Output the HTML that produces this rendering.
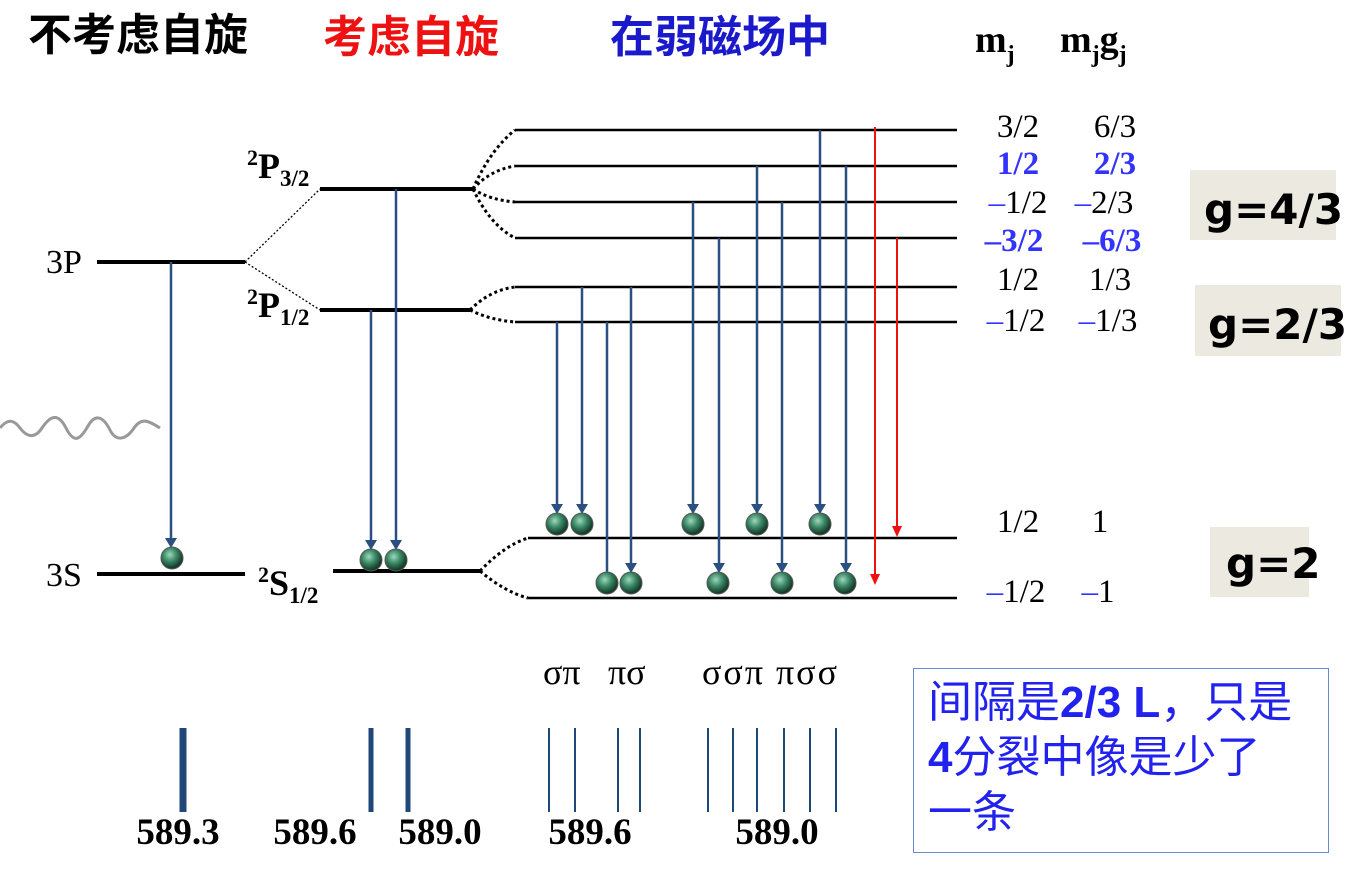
<!DOCTYPE html>
<html><head><meta charset="utf-8"><style>
body{margin:0;background:#fff;width:1361px;height:874px;overflow:hidden;position:relative}
svg{position:absolute;left:0;top:0}
.cn{font-family:"Liberation Sans","Noto Sans CJK SC",sans-serif;font-weight:bold}
.box{position:absolute;left:913px;top:668px;width:416px;height:185px;border:1.5px solid #6a8ad0;box-sizing:border-box;color:#2222ee;font-family:"Liberation Sans","Noto Sans CJK SC",sans-serif;font-size:44px;line-height:55px;padding:6px 0 0 14px;white-space:nowrap}
</style></head><body>
<svg width="1361" height="874" viewBox="0 0 1361 874">
<defs>
<radialGradient id="ball" cx="40%" cy="35%" r="60%"><stop offset="0" stop-color="#9fd8bd"/><stop offset="0.5" stop-color="#3c8a68"/><stop offset="1" stop-color="#153c2a"/></radialGradient>
</defs>
<g class="cn" font-size="44">
<text x="28" y="50" fill="#000">不考虑自旋</text>
<text x="323" y="52" fill="#ee1111">考虑自旋</text>
<text x="610" y="52" fill="#1a1acc">在弱磁场中</text>
</g>
<g font-family="Liberation Serif,serif" font-weight="bold" font-size="38" fill="#000">
<text x="975" y="52">m<tspan font-size="24" dy="10">j</tspan></text>
<text x="1060" y="52">m<tspan font-size="24" dy="10">j</tspan><tspan dy="-10">g</tspan><tspan font-size="24" dy="10">j</tspan></text>
</g>
<g stroke="#000" stroke-width="4">
<line x1="97" y1="262" x2="245" y2="262"/><line x1="97" y1="574" x2="245" y2="574"/>
<line x1="320" y1="189" x2="475" y2="189"/><line x1="320" y1="310" x2="470" y2="310"/>
<line x1="333" y1="571" x2="480" y2="571"/>
</g>
<g stroke="#000" stroke-width="1.3" stroke-dasharray="2,2">
<line x1="245" y1="262" x2="320" y2="189"/><line x1="245" y1="262" x2="320" y2="310"/>
</g>
<g stroke="#000" stroke-width="3" stroke-dasharray="3,3" fill="none">
<path d="M473,189 Q490,150 515,130"/><path d="M473,189 Q490,170 515,166"/><path d="M473,189 Q490,200 515,202"/><path d="M473,189 Q490,225 515,238"/>
<path d="M470,310 Q490,290 515,287"/><path d="M470,310 Q490,320 515,322"/>
<path d="M480,571 Q505,545 528,538"/><path d="M480,571 Q505,592 528,598"/>
</g>
<g stroke="#000" stroke-width="2.5">
<line x1="515" y1="130" x2="957" y2="130"/><line x1="515" y1="166" x2="957" y2="166"/><line x1="515" y1="202" x2="957" y2="202"/><line x1="515" y1="238" x2="957" y2="238"/><line x1="515" y1="287" x2="957" y2="287"/><line x1="515" y1="322" x2="957" y2="322"/>
<line x1="528" y1="538" x2="957" y2="538"/><line x1="528" y1="598" x2="957" y2="598"/>
</g>
<path d="M0,428 C8,418 14,420 20,428 S34,440 42,428 S58,412 66,428 S80,440 88,426 S104,418 110,430 S126,440 134,428 S150,422 160,428" stroke="#999" stroke-width="3" fill="none"/>
<g stroke="#2a4f80" stroke-width="2.5">
<line x1="171" y1="262" x2="171" y2="540"/>
<line x1="371" y1="310" x2="371" y2="542"/><line x1="396" y1="189" x2="396" y2="542"/>
<line x1="557" y1="322" x2="557" y2="506"/><line x1="582" y1="287" x2="582" y2="506"/>
<line x1="607" y1="322" x2="607" y2="580"/>
<line x1="631" y1="287" x2="631" y2="565"/>
<line x1="693" y1="202" x2="693" y2="506"/><line x1="719" y1="238" x2="719" y2="565"/>
<line x1="757" y1="166" x2="757" y2="506"/><line x1="782" y1="202" x2="782" y2="565"/>
<line x1="820" y1="130" x2="820" y2="506"/><line x1="846" y1="166" x2="846" y2="565"/>
</g>
<g fill="#2a4f80">
<path d="M165,538 h12 l-6,10z"/>
<path d="M365,540 h12 l-6,10z"/><path d="M390,540 h12 l-6,10z"/>
<path d="M551,504 h12 l-6,10z"/><path d="M576,504 h12 l-6,10z"/><path d="M687,504 h12 l-6,10z"/><path d="M751,504 h12 l-6,10z"/><path d="M814,504 h12 l-6,10z"/>
<path d="M625,563 h12 l-6,10z"/><path d="M713,563 h12 l-6,10z"/><path d="M776,563 h12 l-6,10z"/><path d="M840,563 h12 l-6,10z"/>
</g>
<g stroke="#ee1111" stroke-width="2">
<line x1="875" y1="127" x2="875" y2="576"/><line x1="897" y1="238" x2="897" y2="528"/>
</g>
<g fill="#ee1111"><path d="M870,574 h10 l-5,11z"/><path d="M892,526 h10 l-5,11z"/></g>
<g fill="url(#ball)" stroke="#555" stroke-width="1">
<circle cx="172" cy="558" r="11"/><circle cx="371" cy="560" r="11"/><circle cx="396" cy="560" r="11"/>
<circle cx="557" cy="524" r="11"/><circle cx="582" cy="524" r="11"/><circle cx="693" cy="524" r="11"/><circle cx="757" cy="524" r="11"/><circle cx="820" cy="524" r="11"/>
<circle cx="607" cy="583" r="11"/><circle cx="631" cy="583" r="11"/><circle cx="718" cy="583" r="11"/><circle cx="782" cy="583" r="11"/><circle cx="845" cy="583" r="11"/>
</g>
<g font-family="Liberation Serif,serif" font-size="34" fill="#000">
<text x="46" y="273">3P</text><text x="46" y="586">3S</text>
</g>
<g font-family="Liberation Serif,serif" font-weight="bold" font-size="36" fill="#000">
<text x="247" y="178"><tspan font-size="22" dy="-13">2</tspan><tspan dy="13">P</tspan><tspan font-size="23" dy="8">3/2</tspan></text>
<text x="247" y="317"><tspan font-size="22" dy="-13">2</tspan><tspan dy="13">P</tspan><tspan font-size="23" dy="8">1/2</tspan></text>
<text x="258" y="595"><tspan font-size="22" dy="-13">2</tspan><tspan dy="13">S</tspan><tspan font-size="23" dy="8">1/2</tspan></text>
</g>
<g font-family="Liberation Serif,serif" font-size="33" fill="#000" text-anchor="middle">
<text x="1018" y="137">3/2</text><text x="1115" y="137">6/3</text>
<text x="1018" y="174" fill="#3333ff" font-weight="bold">1/2</text><text x="1115" y="174" fill="#3333ff" font-weight="bold">2/3</text>
<text x="1018" y="213"><tspan fill="#3333ff">–</tspan>1/2</text><text x="1104" y="213"><tspan fill="#3333ff">–</tspan>2/3</text>
<text x="1014" y="251" fill="#3333ff" font-weight="bold">–3/2</text><text x="1112" y="251" fill="#3333ff" font-weight="bold">–6/3</text>
<text x="1018" y="290">1/2</text><text x="1110" y="290">1/3</text>
<text x="1016" y="331"><tspan fill="#3333ff">–</tspan>1/2</text><text x="1108" y="331"><tspan fill="#3333ff">–</tspan>1/3</text>
<text x="1018" y="532">1/2</text><text x="1100" y="532">1</text>
<text x="1016" y="602"><tspan fill="#3333ff">–</tspan>1/2</text><text x="1098" y="602"><tspan fill="#3333ff">–</tspan>1</text>
</g>
<rect x="1190" y="170" width="146" height="70" fill="#ece9e0"/>
<rect x="1195" y="285" width="146" height="71" fill="#ece9e0"/>
<rect x="1210" y="527" width="99" height="70" fill="#ece9e0"/>
<g font-family="DejaVu Sans,sans-serif" font-weight="bold" font-size="42" fill="#000">
<text x="1204" y="224">g=4/3</text><text x="1208" y="339">g=2/3</text><text x="1226" y="578">g=2</text>
</g>
<g font-family="Liberation Serif,serif" font-size="36" fill="#000">
<text x="543" y="684">σπ</text><text x="608" y="684">πσ</text><text x="702" y="684" letter-spacing="2">σσπ πσσ</text>
</g>
<g stroke="#1f4778">
<line x1="183" y1="728" x2="183" y2="812" stroke-width="7"/>
<line x1="371" y1="728" x2="371" y2="812" stroke-width="5"/><line x1="408" y1="728" x2="408" y2="812" stroke-width="5"/>
<g stroke-width="2"><line x1="549" y1="728" x2="549" y2="812"/><line x1="575" y1="728" x2="575" y2="812"/><line x1="618" y1="728" x2="618" y2="812"/><line x1="640" y1="728" x2="640" y2="812"/>
<line x1="708" y1="728" x2="708" y2="812"/><line x1="733" y1="728" x2="733" y2="812"/><line x1="757" y1="728" x2="757" y2="812"/><line x1="784" y1="728" x2="784" y2="812"/><line x1="810" y1="728" x2="810" y2="812"/><line x1="836" y1="728" x2="836" y2="812"/></g>
</g>
<g font-family="Liberation Serif,serif" font-weight="bold" font-size="37" fill="#000" text-anchor="middle">
<text x="178" y="844">589.3</text><text x="315" y="844">589.6</text><text x="440" y="844">589.0</text><text x="590" y="844">589.6</text><text x="777" y="844">589.0</text>
</g>
</svg>
<div class="box">间隔是<b>2/3 L</b>，只是<br><b>4</b>分裂中像是少了<br>一条</div>
</body></html>
